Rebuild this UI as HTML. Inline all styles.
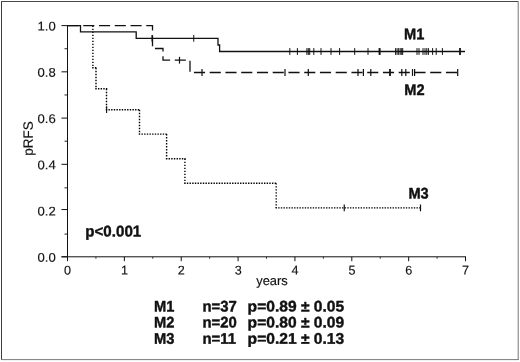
<!DOCTYPE html>
<html><head><meta charset="utf-8"><title>pRFS</title>
<style>
html,body{margin:0;padding:0;background:#fff;}
body{width:520px;height:362px;overflow:hidden;}
svg{display:block;}
text{font-family:"Liberation Sans",Arial,sans-serif;fill:#111;text-rendering:geometricPrecision;}
.r{stroke:#111;stroke-width:0.15px;}
.b{font-weight:bold;stroke:#111;stroke-width:0.4px;stroke-linejoin:round;}
</style></head><body>
<svg width="520" height="362" viewBox="0 0 520 362">
<rect x="0" y="0" width="520" height="362" fill="#fff"/>
<g fill="none" stroke-linecap="round">
<path d="M1.5,1.5 V359.4" stroke="#3c3c3c" stroke-width="1"/>
<path d="M1.5,1.5 H518" stroke="#484848" stroke-width="1"/>
<path d="M518.2,1.8 V359.5" stroke="#666" stroke-width="0.9"/>
<path d="M1.8,359.6 H518.2" stroke="#6c6c6c" stroke-width="0.9"/>
</g>

<g stroke="#111" stroke-width="1" fill="none">
<path d="M67.5,25.2 V256.8"/>
<path d="M61.5,256.8 H466.02"/>
<path d="M61.5,256.80 H67.5" stroke-width="1"/>
<path d="M64.5,234.08 H67.5" stroke-width="0.9"/>
<path d="M61.5,209.56 H67.5" stroke-width="1"/>
<path d="M64.5,187.84 H67.5" stroke-width="0.9"/>
<path d="M61.5,164.32 H67.5" stroke-width="1"/>
<path d="M64.5,141.20 H67.5" stroke-width="0.9"/>
<path d="M61.5,118.08 H67.5" stroke-width="1"/>
<path d="M64.5,94.96 H67.5" stroke-width="0.9"/>
<path d="M61.5,71.84 H67.5" stroke-width="1"/>
<path d="M64.5,48.72 H67.5" stroke-width="0.9"/>
<path d="M61.5,25.60 H67.5" stroke-width="1"/>
<path d="M67.50,256.8 V261.2" stroke-width="1"/>
<path d="M95.93,256.8 V258.8" stroke-width="0.8"/>
<path d="M124.36,256.8 V261.2" stroke-width="1"/>
<path d="M152.79,256.8 V258.8" stroke-width="0.8"/>
<path d="M181.22,256.8 V261.2" stroke-width="1"/>
<path d="M209.65,256.8 V258.8" stroke-width="0.8"/>
<path d="M238.08,256.8 V261.2" stroke-width="1"/>
<path d="M266.51,256.8 V258.8" stroke-width="0.8"/>
<path d="M294.94,256.8 V261.2" stroke-width="1"/>
<path d="M323.37,256.8 V258.8" stroke-width="0.8"/>
<path d="M351.80,256.8 V261.2" stroke-width="1"/>
<path d="M380.23,256.8 V258.8" stroke-width="0.8"/>
<path d="M408.66,256.8 V261.2" stroke-width="1"/>
<path d="M437.09,256.8 V258.8" stroke-width="0.8"/>
<path d="M465.52,256.8 V261.2" stroke-width="1"/>
</g>
<path d="M92.90,25.70 V67.80" fill="none" stroke="#000" stroke-width="1.4" stroke-dasharray="1.4 1.6"/>
<path d="M92.20,67.80 H96.70" fill="none" stroke="#000" stroke-width="1.4" stroke-dasharray="1.4 1.26"/>
<path d="M96.00,67.80 V88.80" fill="none" stroke="#000" stroke-width="1.4" stroke-dasharray="1.4 1.6"/>
<path d="M95.30,88.80 H107.20" fill="none" stroke="#000" stroke-width="1.4" stroke-dasharray="1.4 1.26"/>
<path d="M106.50,88.80 V109.75" fill="none" stroke="#000" stroke-width="1.4" stroke-dasharray="1.4 1.6"/>
<path d="M105.80,109.75 H140.20" fill="none" stroke="#000" stroke-width="1.4" stroke-dasharray="1.4 1.26"/>
<path d="M139.50,109.75 V134.10" fill="none" stroke="#000" stroke-width="1.4" stroke-dasharray="1.4 1.6"/>
<path d="M138.80,134.10 H167.30" fill="none" stroke="#000" stroke-width="1.4" stroke-dasharray="1.4 1.26"/>
<path d="M166.60,134.10 V158.70" fill="none" stroke="#000" stroke-width="1.4" stroke-dasharray="1.4 1.6"/>
<path d="M165.90,158.70 H185.60" fill="none" stroke="#000" stroke-width="1.4" stroke-dasharray="1.4 1.26"/>
<path d="M184.90,158.70 V183.20" fill="none" stroke="#000" stroke-width="1.4" stroke-dasharray="1.4 1.6"/>
<path d="M184.20,183.20 H276.90" fill="none" stroke="#000" stroke-width="1.4" stroke-dasharray="1.4 1.26"/>
<path d="M276.20,183.20 V207.90" fill="none" stroke="#000" stroke-width="1.4" stroke-dasharray="1.4 1.6"/>
<path d="M275.50,207.90 H421.20" fill="none" stroke="#000" stroke-width="1.4" stroke-dasharray="1.4 1.26"/>
<path d="M67.50,25.70 L152.50,25.70 L152.50,48.50 L163.00,48.50 L163.00,60.20 L190.00,60.20 L190.00,72.50 L458.00,72.50" fill="none" stroke="#111" stroke-width="1.3" stroke-dasharray="11.1 4.65"/>
<path d="M67.50,25.70 L80.50,25.70 L80.50,31.80 L136.20,31.80 L136.20,38.30 L218.00,38.30 L218.00,45.00 L219.60,45.00 L219.60,51.50 L465.00,51.50" fill="none" stroke="#111" stroke-width="1.3"/>
<g stroke="#111" fill="none">
<path d="M152.00,34.90 V41.70" stroke-width="1"/>
<path d="M193.75,34.90 V41.70" stroke-width="1"/>
<path d="M289.80,48.10 V54.90" stroke-width="1"/>
<path d="M297.40,48.10 V54.90" stroke-width="1"/>
<path d="M306.90,48.10 V54.90" stroke-width="1"/>
<path d="M308.30,48.10 V54.90" stroke-width="1"/>
<path d="M309.70,48.10 V54.90" stroke-width="1"/>
<path d="M313.80,48.10 V54.90" stroke-width="1"/>
<path d="M321.00,48.10 V54.90" stroke-width="1"/>
<path d="M331.00,48.10 V54.90" stroke-width="1"/>
<path d="M339.60,48.10 V54.90" stroke-width="1"/>
<path d="M354.70,48.10 V54.90" stroke-width="1"/>
<path d="M368.00,48.10 V54.90" stroke-width="1"/>
<path d="M379.60,48.10 V54.90" stroke-width="2.0"/>
<path d="M395.60,48.10 V54.90" stroke-width="1"/>
<path d="M397.10,48.10 V54.90" stroke-width="1"/>
<path d="M398.70,48.10 V54.90" stroke-width="1"/>
<path d="M400.20,48.10 V54.90" stroke-width="1"/>
<path d="M401.70,48.10 V54.90" stroke-width="1"/>
<path d="M402.70,48.10 V54.90" stroke-width="1"/>
<path d="M417.00,48.10 V54.90" stroke-width="1"/>
<path d="M419.00,48.10 V54.90" stroke-width="1"/>
<path d="M423.00,48.10 V54.90" stroke-width="1"/>
<path d="M425.00,48.10 V54.90" stroke-width="1"/>
<path d="M426.80,48.10 V54.90" stroke-width="1"/>
<path d="M428.40,48.10 V54.90" stroke-width="1"/>
<path d="M432.60,48.10 V54.90" stroke-width="1"/>
<path d="M436.20,48.10 V54.90" stroke-width="1"/>
<path d="M442.40,48.10 V54.90" stroke-width="1"/>
<path d="M460.00,48.10 V54.90" stroke-width="1.8"/>
<path d="M179.50,56.80 V63.60" stroke-width="1.2"/>
<path d="M202.00,69.10 V75.90" stroke-width="1.2"/>
<path d="M285.00,69.10 V75.90" stroke-width="1.2"/>
<path d="M308.30,69.10 V75.90" stroke-width="1.2"/>
<path d="M358.00,69.10 V75.90" stroke-width="1.2"/>
<path d="M363.40,69.10 V75.90" stroke-width="1.2"/>
<path d="M370.80,69.10 V75.90" stroke-width="1.2"/>
<path d="M390.00,69.10 V75.90" stroke-width="1.8"/>
<path d="M401.80,69.10 V75.90" stroke-width="1.2"/>
<path d="M405.80,69.10 V75.90" stroke-width="1.2"/>
<path d="M412.50,69.10 V75.90" stroke-width="1.2"/>
<path d="M414.60,69.10 V75.90" stroke-width="1.2"/>
<path d="M457.70,69.10 V75.90" stroke-width="1.2"/>
<path d="M106.60,106.20 V113.00" stroke-width="1.1"/>
<path d="M344.25,204.50 V211.30" stroke-width="1.2"/>
<path d="M420.50,204.50 V211.30" stroke-width="1.2"/>
</g>
<text class="r" transform="matrix(1.04 0.0005 0 1 55.70 261.70)" font-size="12.6" text-anchor="end">0.0</text>
<text class="r" transform="matrix(1.04 0.0005 0 1 55.70 215.46)" font-size="12.6" text-anchor="end">0.2</text>
<text class="r" transform="matrix(1.04 0.0005 0 1 55.70 169.22)" font-size="12.6" text-anchor="end">0.4</text>
<text class="r" transform="matrix(1.04 0.0005 0 1 55.70 122.98)" font-size="12.6" text-anchor="end">0.6</text>
<text class="r" transform="matrix(1.04 0.0005 0 1 55.70 76.74)" font-size="12.6" text-anchor="end">0.8</text>
<text class="r" transform="matrix(1.04 0.0005 0 1 55.70 30.50)" font-size="12.6" text-anchor="end">1.0</text>
<text class="r" transform="matrix(1.0 0.0005 0 1 67.60 274.50)" font-size="12.6" text-anchor="middle">0</text>
<text class="r" transform="matrix(1.0 0.0005 0 1 124.46 274.50)" font-size="12.6" text-anchor="middle">1</text>
<text class="r" transform="matrix(1.0 0.0005 0 1 181.32 274.50)" font-size="12.6" text-anchor="middle">2</text>
<text class="r" transform="matrix(1.0 0.0005 0 1 238.18 274.50)" font-size="12.6" text-anchor="middle">3</text>
<text class="r" transform="matrix(1.0 0.0005 0 1 295.04 274.50)" font-size="12.6" text-anchor="middle">4</text>
<text class="r" transform="matrix(1.0 0.0005 0 1 351.90 274.50)" font-size="12.6" text-anchor="middle">5</text>
<text class="r" transform="matrix(1.0 0.0005 0 1 408.76 274.50)" font-size="12.6" text-anchor="middle">6</text>
<text class="r" transform="matrix(1.0 0.0005 0 1 465.62 274.50)" font-size="12.6" text-anchor="middle">7</text>
<text class="r" transform="matrix(1.0 0.0005 0 1 272.00 284.90)" font-size="12.9" text-anchor="middle">years</text>
<text class="r" transform="matrix(0.0005 -1 1 0 32.8 138.6)" font-size="13.5" text-anchor="middle">pRFS</text>
<text class="b" transform="matrix(0.955 0.0005 0 1 414.2 39.2)" font-size="15.3" text-anchor="middle">M1</text>
<text class="b" transform="matrix(0.955 0.0005 0 1 414.4 94.9)" font-size="15.3" text-anchor="middle">M2</text>
<text class="b" transform="matrix(0.955 0.0005 0 1 418.6 198.6)" font-size="15.3" text-anchor="middle">M3</text>
<text class="b" transform="matrix(0.97 0.0005 0 1 85.3 236.6)" font-size="15.6" text-anchor="start">p&lt;0.001</text>
<text class="b" transform="matrix(0.96 0.0005 0 1 154.1 311.4)" font-size="15.3" text-anchor="start">M1</text>
<text class="b" transform="matrix(0.975 0.0005 0 1 202.5 311.4)" font-size="15.3" text-anchor="start">n=37</text>
<text class="b" transform="matrix(1.02 0.0005 0 1 247.6 311.4)" font-size="15.3" text-anchor="start">p=0.89 ± 0.05</text>
<text class="b" transform="matrix(0.96 0.0005 0 1 154.1 327.55)" font-size="15.3" text-anchor="start">M2</text>
<text class="b" transform="matrix(0.975 0.0005 0 1 202.5 327.55)" font-size="15.3" text-anchor="start">n=20</text>
<text class="b" transform="matrix(1.02 0.0005 0 1 247.6 327.55)" font-size="15.3" text-anchor="start">p=0.80 ± 0.09</text>
<text class="b" transform="matrix(0.96 0.0005 0 1 154.1 343.7)" font-size="15.3" text-anchor="start">M3</text>
<text class="b" transform="matrix(0.975 0.0005 0 1 202.5 343.7)" font-size="15.3" text-anchor="start">n=11</text>
<text class="b" transform="matrix(1.02 0.0005 0 1 247.6 343.7)" font-size="15.3" text-anchor="start">p=0.21 ± 0.13</text>
</svg></body></html>
